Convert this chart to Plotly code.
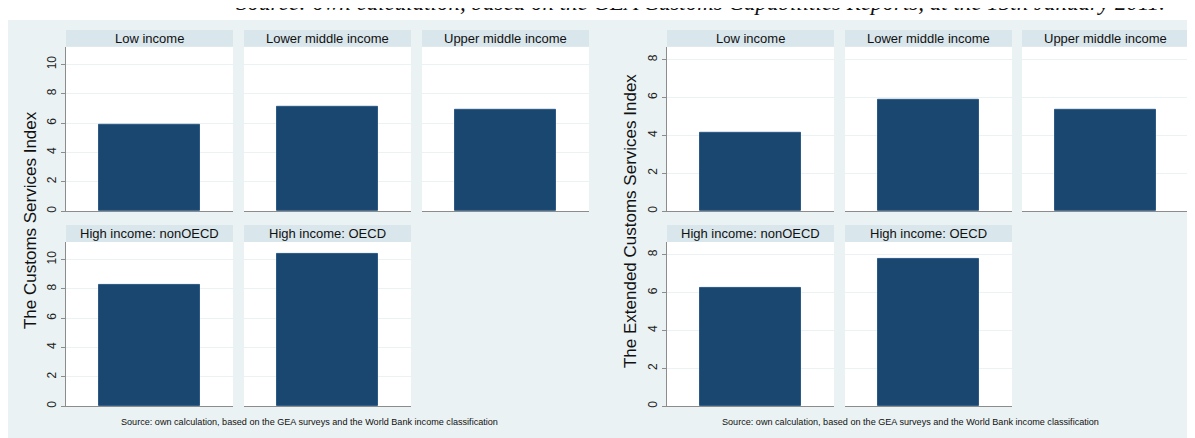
import plotly.graph_objects as go

W, H = 1195, 438
OFF = 8  # page body margin offset

categories = ["Low income", "Lower middle income", "Upper middle income",
              "High income: nonOECD", "High income: OECD"]
customs_index = [5.9, 7.1, 6.9, 8.3, 10.35]
extended_index = [4.12, 5.88, 5.35, 6.27, 7.8]

left_ticks = [0, 2, 4, 6, 8, 10]
right_ticks = [0, 2, 4, 6, 8]

title_text = "Source: own calculation, based on the GEA Customs Capabilities Reports, at the 15th January 2011."
note_text = "Source: own calculation, based on the GEA surveys and the World Bank income classification"
left_ytitle = "The Customs Services Index"
right_ytitle = "The Extended Customs Services Index"

BG = "#EAF2F3"
STRIP = "#D9E6EB"
BAR = "#1A476F"
AXIS = "#8C8C8C"

def px(x):
    return (x - OFF) / W

def py(y):
    return 1 - (y - OFF) / H

left_cols = [(66, 233), (244, 411), (422, 589)]
right_cols = [(667, 834), (845, 1012), (1022, 1189)]
rows = [(47, 212, 30), (243, 408, 226)]  # plot top, plot bottom, strip top

fig = go.Figure()
shapes = []
annotations = []

shapes.append(dict(type="rect", xref="paper", yref="paper", x0=px(8), x1=1, y0=0, y1=py(20),
                   fillcolor=BG, line=dict(width=0), layer="below"))

axis_n = 0
graphs = [(left_cols, customs_index, left_ticks, 11.2),
          (right_cols, extended_index, right_ticks, 8.68)]
for cols, values, ticks, ymax in graphs:
    for i, (cat, val) in enumerate(zip(categories, values)):
        r, c = divmod(i, 3)
        x0, x1 = cols[c]
        top, bot, stop = rows[r]
        axis_n += 1
        xa = "x" if axis_n == 1 else f"x{axis_n}"
        ya = "y" if axis_n == 1 else f"y{axis_n}"
        xk = "xaxis" if axis_n == 1 else f"xaxis{axis_n}"
        yk = "yaxis" if axis_n == 1 else f"yaxis{axis_n}"
        fig.add_trace(go.Bar(x=[cat], y=[val], xaxis=xa, yaxis=ya,
                             marker=dict(color=BAR, line=dict(color="#2B5A86", width=1)),
                             width=0.61, showlegend=False, hoverinfo="y"))
        fig.layout[xk] = dict(domain=[px(x0), px(x1)], anchor=ya, range=[-0.5, 0.5],
                              showticklabels=False, ticks="", showgrid=False,
                              showline=True, linecolor=AXIS, linewidth=1,
                              zeroline=False, fixedrange=True)
        first = (c == 0)
        fig.layout[yk] = dict(domain=[py(bot), py(top)], anchor=xa, range=[0, ymax],
                              tickvals=ticks, showticklabels=first,
                              ticks="outside" if first else "", ticklen=4, tickcolor=AXIS,
                              tickangle=-90, tickfont=dict(family="Liberation Sans", size=12, color="#222"),
                              showline=first, linecolor=AXIS, linewidth=1,
                              showgrid=True, gridcolor=BG, gridwidth=1,
                              zeroline=False, fixedrange=True)
        shapes.append(dict(type="rect", xref="paper", yref="paper", x0=px(x0), x1=px(x1),
                           y0=py(top), y1=py(stop), fillcolor=STRIP, line=dict(width=0)))
        shapes.append(dict(type="rect", xref="paper", yref="paper", x0=px(x0), x1=px(x1),
                           y0=py(bot), y1=py(top), fillcolor="white", line=dict(width=0),
                           layer="below"))
        annotations.append(dict(text=cat, xref="paper", yref="paper", x=px((x0 + x1) / 2),
                                y=py((stop + top) / 2), showarrow=False,
                                font=dict(family="Liberation Sans", size=13, color="#111"),
                                xanchor="center", yanchor="middle"))

annotations.append(dict(text=left_ytitle, xref="paper", yref="paper", x=px(30), y=py(221),
                        textangle=-90, showarrow=False, xanchor="center", yanchor="middle",
                        font=dict(family="Liberation Sans", size=17, color="#111")))
annotations.append(dict(text=right_ytitle, xref="paper", yref="paper", x=px(630), y=py(222),
                        textangle=-90, showarrow=False, xanchor="center", yanchor="middle",
                        font=dict(family="Liberation Sans", size=17, color="#111")))
annotations.append(dict(text=note_text, xref="paper", yref="paper", x=px(309), y=py(424),
                        showarrow=False, xanchor="center", yanchor="middle",
                        font=dict(family="Liberation Sans", size=9.1, color="#111")))
annotations.append(dict(text=note_text, xref="paper", yref="paper", x=px(910), y=py(424),
                        showarrow=False, xanchor="center", yanchor="middle",
                        font=dict(family="Liberation Sans", size=9.1, color="#111")))
annotations.append(dict(text=f"<i>{title_text}</i>", xref="paper", yref="paper", x=px(700), y=py(17),
                        showarrow=False, xanchor="center", yanchor="bottom",
                        font=dict(family="Liberation Serif", size=23, color="#111")))

fig.update_layout(width=W, height=H, margin=dict(l=0, r=0, t=0, b=0),
                  paper_bgcolor="white", plot_bgcolor="rgba(0,0,0,0)",
                  shapes=shapes, annotations=annotations, bargap=0)

fig.write_html("out.html")
